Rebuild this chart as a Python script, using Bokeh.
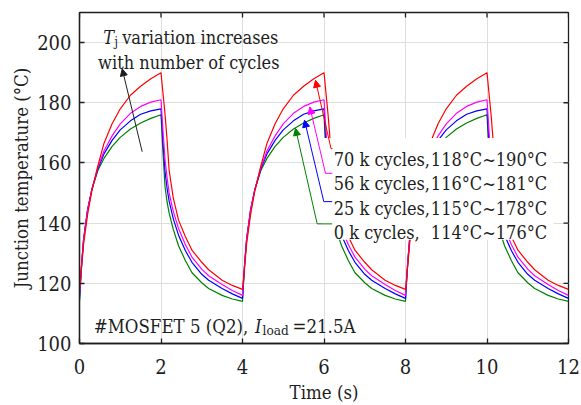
from bokeh.plotting import figure
from bokeh.models import (FixedTicker, Range1d, Label, Arrow, NormalHead)
from bokeh.embed import file_html
from bokeh.resources import INLINE

FONT = "DejaVu Serif Condensed"
INK = "#1e1e1e"

# ---------------- data ----------------
cycle_starts = [0, 4, 8]
t_heat = [0, 0.05, 0.1, 0.2, 0.3, 0.45, 0.6, 0.8, 1.0, 1.25, 1.5, 1.75, 2.0]
t_cool = [2.05, 2.1, 2.15, 2.2, 2.3, 2.43, 2.6, 2.76, 3.0, 3.17, 3.5, 3.75, 4.0]

heat_0k = [114, 126, 134.5, 144.5, 151, 157.5, 161.5, 165.5, 168.5, 171.3, 173.3, 174.8, 176]
cool_0k = [163, 152, 147, 143.3, 138, 132.5, 127.5, 123.5, 120.2, 118.3, 116, 114.8, 114]

heat_25k = [115, 126, 134.5, 144.5, 151, 158, 163, 167.5, 171, 174, 176.2, 177.3, 178]
cool_25k = [166.5, 157, 151.5, 147.3, 141.5, 136, 130.8, 127, 123, 121, 118.3, 116.5, 115]

heat_56k = [116, 126, 134.5, 144.5, 151, 158.5, 164, 169, 173, 176.5, 178.8, 180.2, 181]
cool_56k = [170.5, 161, 155, 150, 144, 138.2, 132.8, 128.7, 124.7, 122.5, 119.6, 117.6, 116]

heat_70k = [118, 125, 133, 143, 150.5, 159, 166.5, 173, 178, 182.5, 185.5, 188, 190]
cool_70k = [183, 176, 167.5, 157.5, 148.5, 141, 135.5, 131, 127, 124.5, 121, 119.3, 118]

series_colors = ["#008000", "#0000ff", "#ff00ff", "#ff0000"]
series_heat = [heat_0k, heat_25k, heat_56k, heat_70k]
series_cool = [cool_0k, cool_25k, cool_56k, cool_70k]

legend_cycles = ["70 k cycles,", "56 k cycles,", "25 k cycles,", "0 k cycles,"]
legend_ranges = ["118°C~190°C", "116°C~181°C", "115°C~178°C", "114°C~176°C"]
legend_colors = ["#ff0000", "#ff00ff", "#0000ff", "#008000"]

x_ticks = [0, 2, 4, 6, 8, 10, 12]
y_ticks = [100, 120, 140, 160, 180, 200]

X0, X1, Y0, Y1 = 79, 568, 344, 12
XMIN, XMAX, YMIN, YMAX = 0, 12, 100, 210
TICK = 5


def dx(px):
    return XMIN + (px - X0) * (XMAX - XMIN) / (X1 - X0)


def dy(py):
    return YMIN + (Y0 - py) * (YMAX - YMIN) / (Y0 - Y1)


p = figure(width=581, height=405, x_range=Range1d(XMIN, XMAX), y_range=Range1d(YMIN, YMAX),
           output_backend="svg", toolbar_location=None,
           min_border_left=X0, min_border_right=581 - X1,
           min_border_top=Y1, min_border_bottom=405 - Y0)
p.background_fill_color = "white"
p.border_fill_color = "white"
p.outline_line_color = INK
p.outline_line_width = 1.3

xt = FixedTicker(ticks=x_ticks)
yt = FixedTicker(ticks=y_ticks)

xax = p.below[0]
yax = p.left[0]
xax.ticker = xt
yax.ticker = yt

for ax in [xax, yax]:
    ax.major_tick_in = TICK
    ax.major_tick_out = 0
    ax.minor_tick_in = 0
    ax.minor_tick_out = 0
    ax.axis_line_color = INK
    ax.axis_line_width = 1.3
    ax.major_tick_line_color = INK
    ax.major_tick_line_width = 1.3
    ax.major_label_text_font = FONT
    ax.major_label_text_font_size = "20px"
    ax.major_label_text_color = INK
    ax.axis_label_text_font = FONT
    ax.axis_label_text_font_size = "18.5px"
    ax.axis_label_text_font_style = "normal"
    ax.axis_label_text_color = INK

xax.axis_label = "Time (s)"
yax.axis_label = "Junction temperature (°C)"
xax.major_label_standoff = 15
xax.axis_label_standoff = 5
yax.major_label_standoff = 8
yax.axis_label_standoff = 2

p.xgrid.ticker = xt
p.ygrid.ticker = yt
p.xgrid.grid_line_color = "#dedede"
p.ygrid.grid_line_color = "#dedede"

# inward ticks on the top and right frame edges
ktx = TICK * (YMAX - YMIN) / (Y0 - Y1)
kty = TICK * (XMAX - XMIN) / (X1 - X0)
p.segment(x0=x_ticks, y0=[YMAX] * len(x_ticks), x1=x_ticks, y1=[YMAX - ktx] * len(x_ticks),
          line_color=INK, line_width=1.3)
p.segment(x0=[XMAX] * len(y_ticks), y0=y_ticks, x1=[XMAX - kty] * len(y_ticks), y1=y_ticks,
          line_color=INK, line_width=1.3)

# ---------------- curves ----------------
for heat, cool, col in zip(series_heat, series_cool, series_colors):
    xs, ys = [], []
    for c in cycle_starts:
        xs += [c + t for t in t_heat] + [c + t for t in t_cool]
        ys += list(heat) + list(cool)
    p.line(xs, ys, line_color=col, line_width=1.2)

# white backdrop behind the legend text
p.quad(left=dx(322), right=dx(553), bottom=dy(240), top=dy(138),
       fill_color="white", line_color=None)

# ---------------- leader lines with arrowheads ----------------
tips = [(315, 80), (309.3, 106.7), (304, 120), (295, 128.3)]
bends = [(330.5, 148.5), (325, 173.3), (323.3, 201.7), (316.7, 224)]
ends = [(332, 148.5), (331.7, 173.3), (331.7, 201.7), (331.7, 224)]
for (tx, ty), (bx, by), (ex, ey), col in zip(tips, bends, ends, legend_colors):
    p.line([dx(bx), dx(ex)], [dy(by), dy(ey)], line_color=col, line_width=1)
    p.add_layout(Arrow(end=NormalHead(size=7, fill_color=col, line_color=col, line_width=1),
                       x_start=dx(bx), y_start=dy(by), x_end=dx(tx), y_end=dy(ty),
                       line_color=col, line_width=1))

# legend text
baselines = [159.3, 184, 208.3, 232.7]
for cyc, rng, by in zip(legend_cycles, legend_ranges, baselines):
    p.add_layout(Label(x=dx(333.3), y=dy(by), text=cyc, text_font=FONT, text_font_size="18px",
                       text_baseline="alphabetic", text_align="left", text_color=INK))
    p.add_layout(Label(x=dx(546.7), y=dy(by), text=rng, text_font=FONT, text_font_size="18px",
                       text_baseline="alphabetic", text_align="right", text_color=INK))

# annotation "Tj variation increases with number of cycles"
p.add_layout(Arrow(end=NormalHead(size=7, fill_color=INK, line_color=INK, line_width=1),
                   x_start=dx(141.7), y_start=dy(151.7), x_end=dx(121.7), y_end=dy(68.5),
                   line_color=INK, line_width=1))
p.add_layout(Label(x=dx(102.7), y=dy(37.5), text="T", text_font=FONT, text_font_size="18px",
                   text_font_style="italic", text_baseline="alphabetic", text_color=INK))
p.add_layout(Label(x=dx(114.0), y=dy(41), text="j", text_font=FONT, text_font_size="12.5px",
                   text_baseline="alphabetic", text_color=INK))
p.add_layout(Label(x=dx(121.7), y=dy(37.5), text="variation increases", text_font=FONT,
                   text_font_size="18px", text_baseline="alphabetic", text_color=INK))
p.add_layout(Label(x=dx(188.3), y=dy(61.7), text="with number of cycles", text_font=FONT,
                   text_font_size="18px", text_baseline="alphabetic", text_align="center",
                   text_color=INK))

# annotation "#MOSFET 5 (Q2), I_load=21.5A"
p.add_layout(Label(x=dx(93.3), y=dy(326.7), text="#MOSFET 5 (Q2),", text_font=FONT,
                   text_font_size="18.5px", text_baseline="alphabetic", text_color=INK))
p.add_layout(Label(x=dx(254.5), y=dy(326.7), text="I", text_font=FONT, text_font_size="18.5px",
                   text_font_style="italic", text_baseline="alphabetic", text_color=INK))
p.add_layout(Label(x=dx(262.0), y=dy(330.5), text="load", text_font=FONT, text_font_size="13.5px",
                   text_baseline="alphabetic", text_color=INK))
p.add_layout(Label(x=dx(292.0), y=dy(326.7), text="=21.5A", text_font=FONT,
                   text_font_size="18.5px", text_baseline="alphabetic", text_color=INK))

open("out.html", "w").write(file_html(p, INLINE))
